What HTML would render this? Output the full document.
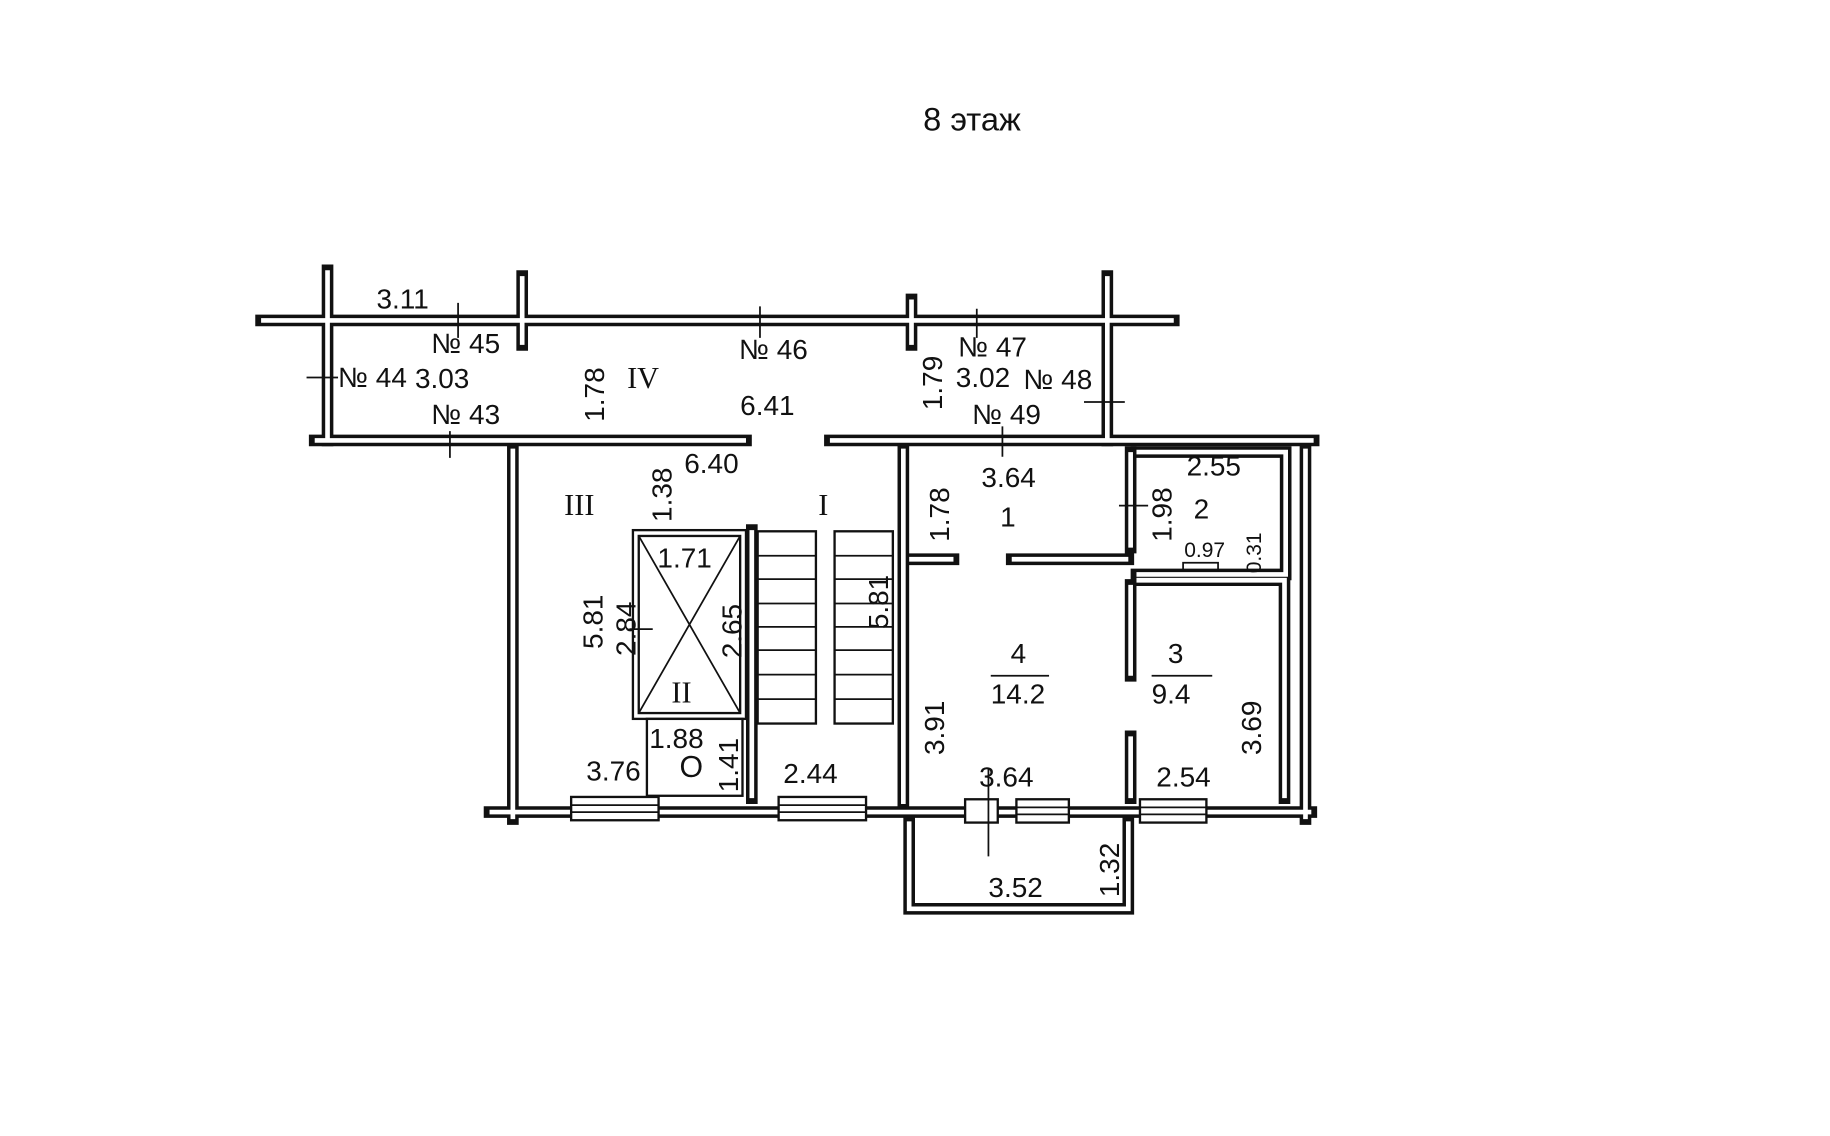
<!DOCTYPE html>
<html><head><meta charset="utf-8"><style>
html,body{margin:0;padding:0;background:#fff;}
svg{display:block}
text{font-family:"Liberation Sans",sans-serif;fill:#111;}
.s{font-family:"Liberation Serif",serif;}
</style></head><body>
<svg width="1830" height="1136" viewBox="0 0 1570 975" preserveAspectRatio="none" xmlns="http://www.w3.org/2000/svg">
<rect width="1570" height="975" fill="#fff"/>
<text x="792" y="112" font-size="28">8 этаж</text>
<g id="walls" fill="none" stroke-linecap="square">
<g stroke="#111" stroke-width="10">
<path d="M224 275H1007M281 232V378M448 237V296M782 257V296M950 237V378"/>
<path d="M270 378H640M712 378H1127M440 385V703M420 697H1125M1120 385V703"/>
<path d="M775 385V690M645 455V685M780 480H818M868 480H968M970 388V470M970 502V580M970 632V685"/>
<path d="M975 388H1103V493H975M975 498H1102V685"/>
<path d="M780 705V780H968V705"/>
</g>
<g stroke="#fff" stroke-width="4">
<path d="M226 275H1005M281 234V376M448 239V294M782 259V294M950 239V376"/>
<path d="M272 378H638M714 378H1125M440 387V701M422 697H1123M1120 387V701"/>
<path d="M775 387V688M645 457V683M782 480H816M870 480H966M970 390V468M970 504V578M970 634V683"/>
<path d="M977 388H1103V493H977M977 498H1102V683"/>
<path d="M780 707V780H968V707"/>
</g>
</g>
<g fill="#fff" stroke="#111" stroke-width="2">
<rect x="543" y="455" width="97" height="162"/><rect x="548" y="460" width="87" height="152"/>
<rect x="555" y="617" width="82" height="66"/>
<rect x="650" y="456" width="50" height="165"/><rect x="716" y="456" width="50" height="165"/>
<rect x="490" y="684" width="75" height="20"/><rect x="668" y="684" width="75" height="20"/>
<rect x="872" y="686" width="45" height="20"/><rect x="978" y="686" width="57" height="20"/>
<rect x="828" y="686" width="28" height="20"/>
</g>
<g stroke="#111" stroke-width="1.5" fill="none">
<path d="M548 460L635 612M635 460L548 612"/>
<path d="M650 477H700M650 497H700M650 518H700M650 538H700M650 558H700M650 579H700M650 600H700"/>
<path d="M716 477H766M716 497H766M716 518H766M716 538H766M716 558H766M716 579H766M716 600H766"/>
<path d="M490 691H565M490 697H565M668 691H743M668 697H743M872 693H917M872 699H917M978 693H1035M978 699H1035"/>
<path d="M393 260V290M652 263V290M838 265V290M263 324H290M930 345H965M386 370V393M860 366V392M960 434H985M540 540H560M848 660V735M1015 490V483H1045V490"/>
</g>
<g font-size="24">
<text x="323" y="265">3.11</text>
<text x="370" y="303">№ 45</text>
<text x="634" y="308">№ 46</text>
<text x="822" y="306">№ 47</text>
<text x="290" y="332">№ 44</text><text x="356" y="333">3.03</text>
<text x="820" y="332">3.02</text><text x="878" y="334">№ 48</text>
<text x="370" y="364">№ 43</text>
<text x="834" y="364">№ 49</text>
<text x="635" y="356">6.41</text>
<text x="587" y="406">6.40</text>
<text x="842" y="418">3.64</text>
<text x="1018" y="408">2.55</text>
<text x="1016" y="478" font-size="18">0.97</text>
<text x="557" y="642">1.88</text>
<text x="503" y="670">3.76</text>
<text x="672" y="672">2.44</text>
<text x="840" y="675">3.64</text>
<text x="992" y="675">2.54</text>
<text x="848" y="770">3.52</text>
<text x="564" y="487">1.71</text>
<text x="583" y="667" font-size="26">O</text>
<text x="1024" y="445">2</text>
<text x="858" y="452">1</text>
<text x="867" y="569">4</text><text x="850" y="604">14.2</text><path d="M850 580H900" stroke="#111" stroke-width="1.5"/>
<text x="1002" y="569">3</text><text x="988" y="604">9.4</text><path d="M988 580H1040" stroke="#111" stroke-width="1.5"/>
</g>
<g class="s" font-size="26">
<text x="538" y="333" class="s">IV</text>
<text x="484" y="442" class="s">III</text>
<text x="702" y="442" class="s">I</text>
<text x="576" y="603" class="s">II</text>
</g>
<g font-size="24">
<text transform="translate(518,362) rotate(-90)">1.78</text>
<text transform="translate(808,352) rotate(-90)">1.79</text>
<text transform="translate(576,448) rotate(-90)">1.38</text>
<text transform="translate(814,465) rotate(-90)">1.78</text>
<text transform="translate(1005,465) rotate(-90)">1.98</text>
<text transform="translate(1082,492) rotate(-90)" font-size="18">0.31</text>
<text transform="translate(517,557) rotate(-90)">5.81</text>
<text transform="translate(545,563) rotate(-90)">2.84</text>
<text transform="translate(636,565) rotate(-90)">2.65</text>
<text transform="translate(762,540) rotate(-90)">5.81</text>
<text transform="translate(633,680) rotate(-90)">1.41</text>
<text transform="translate(810,648) rotate(-90)">3.91</text>
<text transform="translate(1082,648) rotate(-90)">3.69</text>
<text transform="translate(960,770) rotate(-90)">1.32</text>
</g>
</svg>
</body></html>
